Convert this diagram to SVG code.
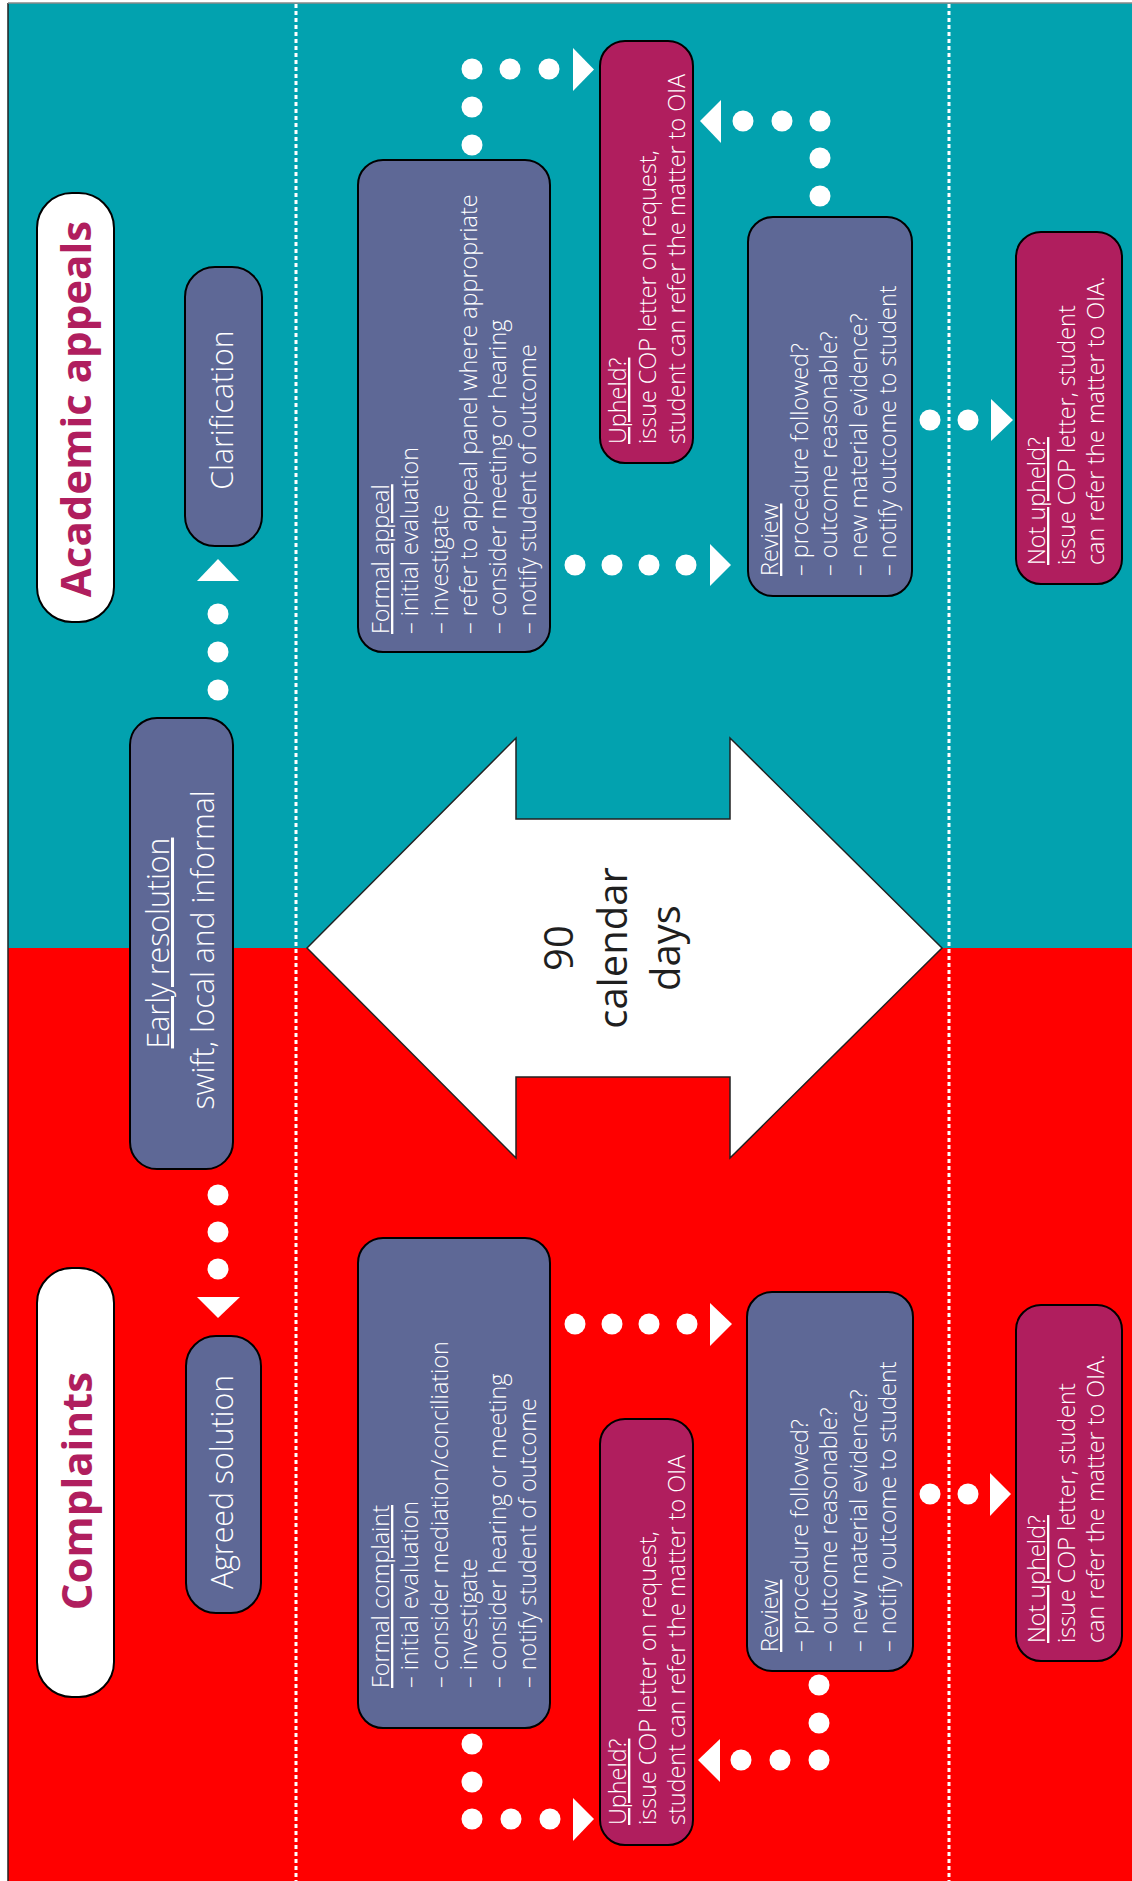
<svg xmlns="http://www.w3.org/2000/svg" width="1132" height="1881" viewBox="0 0 1132 1881">
<style>
.teal{fill:#02a2af}
.red{fill:#ff0000}
.box{stroke:#000;stroke-width:2}
.slate{fill:#5e6896}
.mag{fill:#b01e5e}
.white{fill:#fff}
.t{font-family:'Open Sans','Liberation Sans',sans-serif;font-weight:300;fill:#fff}
.b{font-size:23.4px}
.s{font-size:30.3px}
.h{font-family:'Open Sans','Liberation Sans',sans-serif;font-weight:700;font-size:42px;fill:#b01e5e}
.d{font-family:'Open Sans','Liberation Sans',sans-serif;font-weight:400;font-size:40px;fill:#1f1f1f}
.u{text-decoration:underline}
.dot{fill:#fff}
.div{stroke:#fff;stroke-width:3;stroke-dasharray:4 3;fill:none}
</style>
<g id="background">
<rect x="0" y="0" width="1132" height="1881" fill="#fff"/>
<rect class="teal" x="8" y="3" width="1124" height="945"/>
<rect class="red" x="8" y="948" width="1124" height="933"/>
<line x1="8" y1="3" x2="8" y2="1881" stroke="#222" stroke-width="1.5"/>
<line x1="8" y1="3" x2="1132" y2="3" stroke="#888" stroke-width="1.5"/>
</g>
<g id="dividers">
<line class="div" x1="296" y1="4" x2="296" y2="1881"/>
<line class="div" x1="949" y1="4" x2="949" y2="1881"/>
</g>
<g id="node-90-days">
<polygon points="307,948 516,738 516,819 730,819 730,738 942,948 730,1158 730,1077 516,1077 516,1158" fill="#fff" stroke="#222" stroke-width="1.5"/>
<text class="d" transform="rotate(-90)" text-anchor="middle"><tspan x="-948" y="573">90</tspan><tspan x="-948" y="626.5">calendar</tspan><tspan x="-948" y="680">days</tspan></text>
</g>
<g id="connectors">
<circle class="dot" cx="218" cy="690" r="10.5"/><circle class="dot" cx="218" cy="652" r="10.5"/><circle class="dot" cx="218" cy="614" r="10.5"/>
<polygon class="dot" points="197,581 218,559 239,581"/>
<circle class="dot" cx="218" cy="1195" r="10.5"/><circle class="dot" cx="218" cy="1232" r="10.5"/><circle class="dot" cx="218" cy="1269" r="10.5"/>
<polygon class="dot" points="197,1297 218,1318 240,1297"/>
<circle class="dot" cx="472" cy="145" r="10.5"/><circle class="dot" cx="472" cy="107" r="10.5"/><circle class="dot" cx="472" cy="69" r="10.5"/><circle class="dot" cx="510" cy="69" r="10.5"/><circle class="dot" cx="549" cy="69" r="10.5"/>
<polygon class="dot" points="573,48 594,69.5 573,91"/>
<circle class="dot" cx="575" cy="565" r="10.5"/><circle class="dot" cx="612" cy="565" r="10.5"/><circle class="dot" cx="649" cy="565" r="10.5"/><circle class="dot" cx="686" cy="565" r="10.5"/>
<polygon class="dot" points="710,544 731,565 710,586"/>
<circle class="dot" cx="820" cy="196" r="10.5"/><circle class="dot" cx="820" cy="158" r="10.5"/><circle class="dot" cx="820" cy="121" r="10.5"/><circle class="dot" cx="782" cy="121" r="10.5"/><circle class="dot" cx="743" cy="121" r="10.5"/>
<polygon class="dot" points="721,100 700,121 721,143"/>
<circle class="dot" cx="930" cy="420" r="10.5"/><circle class="dot" cx="968" cy="420" r="10.5"/>
<polygon class="dot" points="991,399 1013,420 991,441"/>
<circle class="dot" cx="472" cy="1744" r="10.5"/><circle class="dot" cx="472" cy="1782" r="10.5"/><circle class="dot" cx="472" cy="1819" r="10.5"/><circle class="dot" cx="511" cy="1819" r="10.5"/><circle class="dot" cx="550" cy="1819" r="10.5"/>
<polygon class="dot" points="573,1798 594,1819 573,1841"/>
<circle class="dot" cx="575" cy="1324" r="10.5"/><circle class="dot" cx="612" cy="1324" r="10.5"/><circle class="dot" cx="649" cy="1324" r="10.5"/><circle class="dot" cx="687" cy="1324" r="10.5"/>
<polygon class="dot" points="710,1303 732,1324 710,1346"/>
<circle class="dot" cx="819" cy="1685" r="10.5"/><circle class="dot" cx="819" cy="1723" r="10.5"/><circle class="dot" cx="819" cy="1760" r="10.5"/><circle class="dot" cx="780" cy="1760" r="10.5"/><circle class="dot" cx="741" cy="1760" r="10.5"/>
<polygon class="dot" points="720,1739 698,1760 720,1782"/>
<circle class="dot" cx="930" cy="1494" r="10.5"/><circle class="dot" cx="968" cy="1494" r="10.5"/>
<polygon class="dot" points="990,1473 1011,1494 990,1516"/>
</g>
<g id="node-academic-appeals">
<rect class="box white" x="37" y="193" width="77" height="429" rx="35"/>
<text class="h" transform="rotate(-90)" text-anchor="middle" x="-409" y="91">Academic appeals</text>
</g>
<g id="node-complaints">
<rect class="box white" x="37" y="1268" width="77" height="429" rx="35"/>
<text class="h" transform="rotate(-90)" text-anchor="middle" x="-1491" y="92">Complaints</text>
</g>
<g id="node-clarification">
<rect class="box slate" x="185" y="267" width="77" height="279" rx="30"/>
<text class="t s" transform="rotate(-90)" text-anchor="middle" x="-410" y="233">Clarification</text>
</g>
<g id="node-agreed-solution">
<rect class="box slate" x="186" y="1336" width="75" height="277" rx="30"/>
<text class="t s" transform="rotate(-90)" text-anchor="middle" x="-1482" y="233">Agreed solution</text>
</g>
<g id="node-early-resolution">
<rect class="box slate" x="130" y="718" width="103" height="451" rx="27"/>
<text class="t s" transform="rotate(-90)" text-anchor="middle"><tspan class="u" x="-943" y="169">Early resolution</tspan><tspan x="-950" y="214">swift, local and informal</tspan></text>
</g>
<g id="node-formal-appeal">
<rect class="box slate" x="358" y="160" width="192" height="492" rx="25"/>
<text class="t b" transform="rotate(-90)"><tspan class="u" x="-634" y="389">Formal appeal</tspan><tspan x="-634" y="418.3">– initial evaluation</tspan><tspan x="-634" y="447.6">– investigate</tspan><tspan x="-634" y="476.9">– refer to appeal panel where appropriate</tspan><tspan x="-634" y="506.2">– consider meeting or hearing</tspan><tspan x="-634" y="535.5">– notify student of outcome</tspan></text>
</g>
<g id="node-formal-complaint">
<rect class="box slate" x="358" y="1238" width="192" height="490" rx="25"/>
<text class="t b" transform="rotate(-90)"><tspan class="u" x="-1688" y="389">Formal complaint</tspan><tspan x="-1688" y="418.3">– initial evaluation</tspan><tspan x="-1688" y="447.6">– consider mediation/conciliation</tspan><tspan x="-1688" y="476.9">– investigate</tspan><tspan x="-1688" y="506.2">– consider hearing or meeting</tspan><tspan x="-1688" y="535.5">– notify student of outcome</tspan></text>
</g>
<g id="node-upheld-appeal">
<rect class="box mag" x="600" y="41" width="93" height="422" rx="25"/>
<text class="t b" transform="rotate(-90)"><tspan class="u" x="-444" y="626">Upheld?</tspan><tspan x="-444" y="655.5">issue COP letter on request,</tspan><tspan x="-444" y="685">student can refer the matter to OIA</tspan></text>
</g>
<g id="node-upheld-complaint">
<rect class="box mag" x="600" y="1419" width="93" height="426" rx="25"/>
<text class="t b" transform="rotate(-90)"><tspan class="u" x="-1825" y="626">Upheld?</tspan><tspan x="-1825" y="655.5">issue COP letter on request,</tspan><tspan x="-1825" y="685">student can refer the matter to OIA</tspan></text>
</g>
<g id="node-review-appeal">
<rect class="box slate" x="748" y="217" width="164" height="379" rx="25"/>
<text class="t b" transform="rotate(-90)"><tspan class="u" x="-576" y="778">Review</tspan><tspan x="-576" y="807.5">– procedure followed?</tspan><tspan x="-576" y="837">– outcome reasonable?</tspan><tspan x="-576" y="866.5">– new material evidence?</tspan><tspan x="-576" y="896">– notify outcome to student</tspan></text>
</g>
<g id="node-review-complaint">
<rect class="box slate" x="747" y="1292" width="166" height="379" rx="25"/>
<text class="t b" transform="rotate(-90)"><tspan class="u" x="-1652" y="778">Review</tspan><tspan x="-1652" y="807.5">– procedure followed?</tspan><tspan x="-1652" y="837">– outcome reasonable?</tspan><tspan x="-1652" y="866.5">– new material evidence?</tspan><tspan x="-1652" y="896">– notify outcome to student</tspan></text>
</g>
<g id="node-not-upheld-appeal">
<rect class="box mag" x="1016" y="232" width="106" height="352" rx="25"/>
<text class="t b" transform="rotate(-90)"><tspan class="u" x="-565" y="1045">Not upheld?</tspan><tspan x="-565" y="1074.5">issue COP letter, student</tspan><tspan x="-565" y="1104">can refer the matter to OIA.</tspan></text>
</g>
<g id="node-not-upheld-complaint">
<rect class="box mag" x="1016" y="1305" width="106" height="356" rx="25"/>
<text class="t b" transform="rotate(-90)"><tspan class="u" x="-1643" y="1045">Not upheld?</tspan><tspan x="-1643" y="1074.5">issue COP letter, student</tspan><tspan x="-1643" y="1104">can refer the matter to OIA.</tspan></text>
</g>
</svg>
